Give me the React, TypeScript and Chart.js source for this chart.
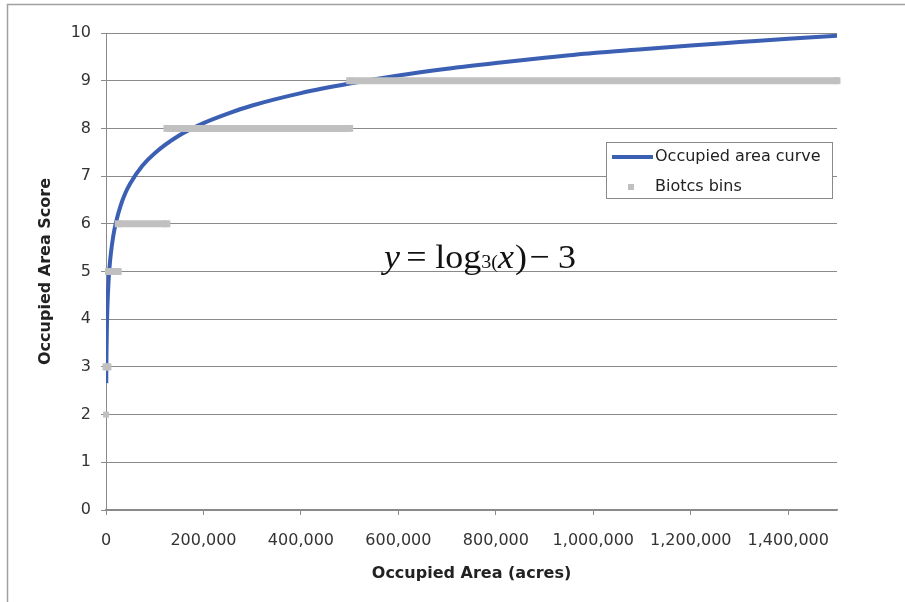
import React, { useEffect, useRef } from "react";
import { Chart, registerables } from "chart.js";

Chart.register(...registerables);

// Occupied area curve (acres -> score)
const curveX = [500, 1000, 2000, 3000, 5000, 7000, 10000, 15000, 20000, 30000, 40000, 50000, 75000, 100000, 150000, 200000, 250000, 300000, 400000, 500000, 600000, 700000, 800000, 900000, 1000000, 1100000, 1200000, 1300000, 1400000, 1500000];
const curveY = [2.66, 3.29, 3.92, 4.29, 4.75, 5.06, 5.38, 5.75, 6.01, 6.38, 6.65, 6.85, 7.22, 7.48, 7.85, 8.11, 8.31, 8.48, 8.74, 8.94, 9.11, 9.25, 9.37, 9.48, 9.58, 9.66, 9.74, 9.81, 9.88, 9.94];

// Biotics bins (score level, start acres, end acres)
const binLevels = [2, 3, 5, 6, 8, 9];
const binStarts = [0, 0, 5000, 25000, 125000, 500000];
const binEnds = [0, 4000, 25000, 125000, 500000, 1500000];

const xTickValues = [0, 200000, 400000, 600000, 800000, 1000000, 1200000, 1400000];
const yTickValues = [0, 1, 2, 3, 4, 5, 6, 7, 8, 9, 10];

const legendLabels = ["Occupied area curve", "Biotcs bins"];
const xTitle = "Occupied Area (acres)";
const yTitle = "Occupied Area Score";

const BLUE = "#3b5fb3";
const GRAY = "#c0c0c0";
const GRID = "#8a8a8a";
const SANS = "'DejaVu Sans', sans-serif";
const SERIF = "'Liberation Serif', 'Times New Roman', serif";

const decorPlugin = {
  id: "decor",
  beforeDraw(chart: any) {
    const ctx = chart.ctx;
    ctx.save();
    ctx.fillStyle = "#ffffff";
    ctx.fillRect(0, 0, chart.width, chart.height);
    ctx.strokeStyle = "#a0a0a0";
    ctx.lineWidth = 1.5;
    ctx.beginPath();
    ctx.moveTo(7.5, chart.height);
    ctx.lineTo(7.5, 4.5);
    ctx.lineTo(chart.width, 4.5);
    ctx.stroke();
    ctx.restore();
  },
  afterDatasetsDraw(chart: any) {
    const ctx = chart.ctx;
    ctx.save();
    // legend box
    ctx.fillStyle = "#ffffff";
    ctx.fillRect(606, 142, 226, 56);
    ctx.strokeStyle = "#8a8a8a";
    ctx.lineWidth = 1;
    ctx.strokeRect(606.5, 142.5, 226, 56);
    ctx.strokeStyle = BLUE;
    ctx.lineWidth = 4;
    ctx.beginPath();
    ctx.moveTo(612, 157);
    ctx.lineTo(653, 157);
    ctx.stroke();
    ctx.fillStyle = GRAY;
    ctx.fillRect(628, 184, 6, 6);
    ctx.fillStyle = "#222222";
    ctx.font = `16px ${SANS}`;
    ctx.textBaseline = "middle";
    ctx.textAlign = "left";
    ctx.fillText(legendLabels[0], 655, 157);
    ctx.fillText(legendLabels[1], 655, 187);

    // equation
    const pieces = [
      { t: "y", f: `italic 34px ${SERIF}`, gap: 6 },
      { t: "=", f: `34px ${SERIF}`, gap: 8 },
      { t: "log", f: `34px ${SERIF}`, gap: 0 },
      { t: "3(", f: `19px ${SERIF}`, gap: 0 },
      { t: "x", f: `italic 34px ${SERIF}`, gap: 1 },
      { t: ")", f: `34px ${SERIF}`, gap: 2 },
      { t: "\u2212", f: `34px ${SERIF}`, gap: 8 },
      { t: "3", f: `34px ${SERIF}`, gap: 0 },
    ];
    ctx.translate(384, 268);
    ctx.scale(1.06, 1);
    let x = 0;
    ctx.fillStyle = "#111111";
    ctx.textBaseline = "alphabetic";
    for (const p of pieces) {
      ctx.font = p.f;
      ctx.fillText(p.t, x, 0);
      x += ctx.measureText(p.t).width + p.gap;
    }
    ctx.restore();
  },
};

export default function App() {
  const ref = useRef<HTMLCanvasElement | null>(null);
  useEffect(() => {
    if (!ref.current) return;
    Chart.defaults.font.family = SANS;
    const datasets: any[] = [
      {
        label: legendLabels[0],
        data: curveX.map((x, i) => ({ x, y: curveY[i] })),
        showLine: true,
        borderColor: BLUE,
        borderWidth: 4,
        pointRadius: 0,
        cubicInterpolationMode: "monotone",
        order: 2,
      },
    ];
    binLevels.forEach((lvl, i) => {
      const single = binStarts[i] === binEnds[i];
      const pts = single
        ? [{ x: binStarts[i], y: lvl }]
        : [
            { x: binStarts[i], y: lvl },
            { x: binEnds[i], y: lvl },
          ];
      datasets.push({
        label: legendLabels[1],
        data: pts,
        showLine: true,
        borderColor: GRAY,
        borderWidth: 7,
        borderCapStyle: "butt",
        pointStyle: "rect",
        pointRadius: single ? 4.2 : 4.9,
        pointBorderWidth: 0,
        pointBackgroundColor: GRAY,
        clip: 8,
        order: 1,
      });
    });
    const chart = new Chart(ref.current, {
      type: "scatter",
      data: { datasets },
      plugins: [decorPlugin],
      options: {
        animation: false,
        responsive: false,
        devicePixelRatio: 1,
        layout: { padding: { left: 0, right: 68, top: 33, bottom: 0 } },
        plugins: { legend: { display: false }, tooltip: { enabled: false } },
        scales: {
          x: {
            type: "linear",
            min: 0,
            max: 1500000,
            afterFit: (s: any) => {
              s.height = 92;
            },
            afterBuildTicks: (s: any) => {
              s.ticks = xTickValues.map((v) => ({ value: v }));
            },
            ticks: {
              color: "#333333",
              font: { size: 16, family: SANS },
              padding: 16,
              maxRotation: 0,
              callback: (v: any) => Number(v).toLocaleString("en-US"),
            },
            grid: { drawOnChartArea: false, drawTicks: true, tickLength: 5, color: GRID },
            border: { display: true, color: GRID, width: 1.5 },
            title: {
              display: true,
              text: xTitle,
              color: "#222222",
              font: { size: 16, weight: "bold", family: SANS },
              padding: { top: 0, bottom: 19 },
            },
          },
          y: {
            type: "linear",
            min: 0,
            max: 10,
            afterFit: (s: any) => {
              s.width = 106;
            },
            afterBuildTicks: (s: any) => {
              s.ticks = yTickValues.map((v) => ({ value: v }));
            },
            ticks: {
              color: "#333333",
              font: { size: 16, family: SANS },
              padding: 10,
            },
            grid: { drawOnChartArea: true, drawTicks: true, tickLength: 5, color: GRID, lineWidth: 1 },
            border: { display: true, color: GRID, width: 1 },
            title: {
              display: true,
              text: yTitle,
              color: "#222222",
              font: { size: 16, weight: "bold", family: SANS },
              padding: { top: 36, bottom: 0 },
            },
          },
        },
      },
    });
    return () => chart.destroy();
  }, []);
  return (
    <div style={{ position: "fixed", left: 0, top: 0, width: 905, height: 602, background: "#fff" }}>
      <canvas ref={ref} width={905} height={602} style={{ width: 905, height: 602, display: "block" }} />
    </div>
  );
}
